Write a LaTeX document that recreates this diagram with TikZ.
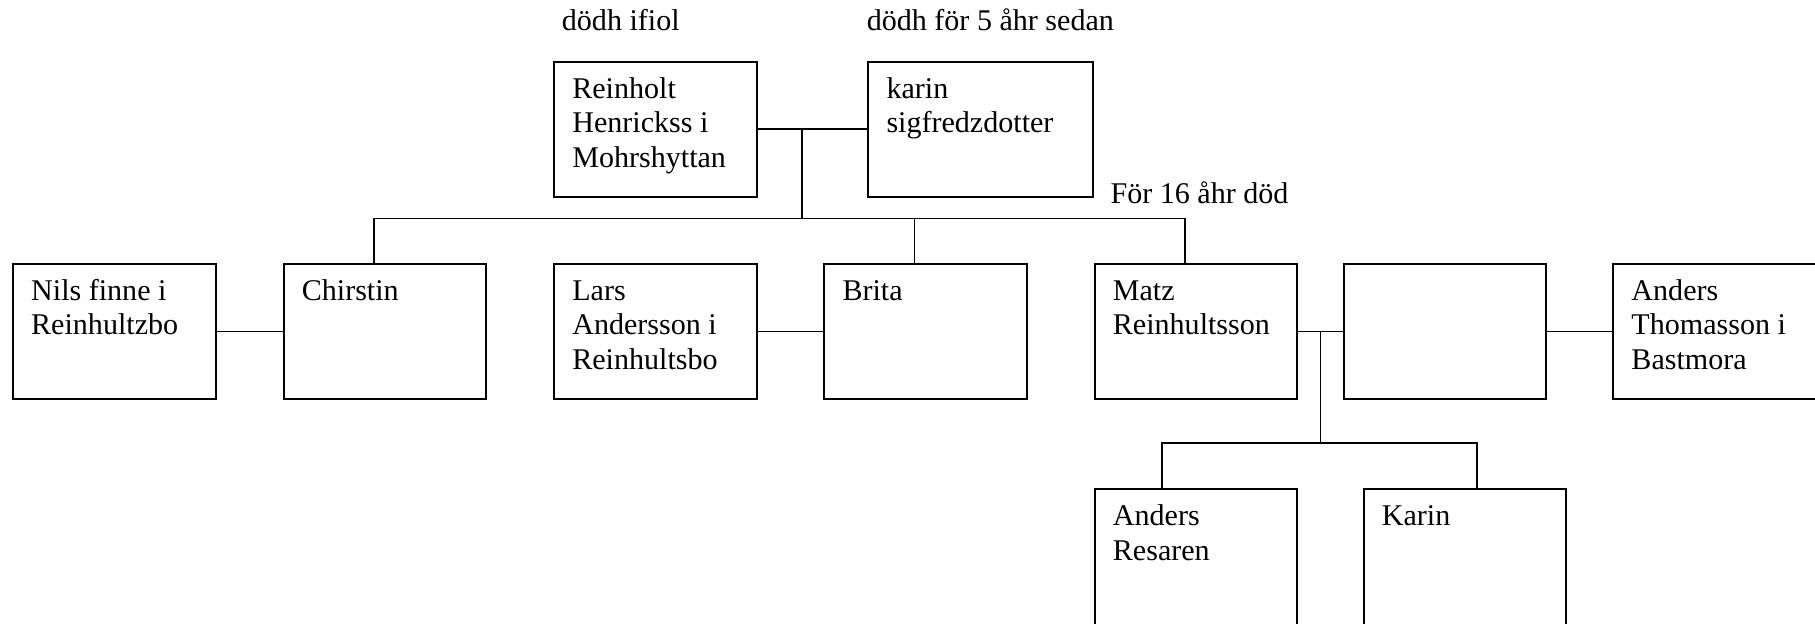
\documentclass[tikz,border=0pt]{standalone}
\usepackage{fontspec}
\setmainfont{Liberation Serif}
\usetikzlibrary{calc}

\tikzset{
    member/.style={draw, line width=0.8pt, anchor=north west, align=flush left,
        text width=#1, inner xsep=7.2pt, inner ysep=4.94pt,
        text height=9.66pt, text depth=34.54pt,
        font=\fontsize{12}{13.8}\selectfont},
    member/.default=66.45pt,
    note/.style={anchor=base west, inner sep=0pt, font=\fontsize{12}{13.8}\selectfont},
    link/.style={line width=0.7pt}
}

\begin{document}
\begin{tikzpicture}[x=0.462pt, y=-0.462pt]
    \useasboundingbox (0,0) rectangle (1568,539);

    % parents
    \node[member] (rein) at (478,52.3) {Reinholt\\Henrickss i\\Mohrshyttan};
    \node[member=75.2pt] (karin) at (749.4,52.3) {karin\\sigfredzdotter};
    \node[note] (noteRein) at (485,26.4) {dödh ifiol};
    \node[note] (noteKarin) at (748.4,26.4) {dödh för 5 åhr sedan};

    % children and their spouses
    \node[member] (nils) at (10.5,227) {Nils finne i\\Reinhultzbo};
    \node[member] (chirstin) at (244.3,227) {Chirstin};
    \node[member] (lars) at (478,227) {Lars\\Andersson i\\Reinhultsbo};
    \node[member] (brita) at (711.4,227) {Brita};
    \node[member] (matz) at (945,227) {Matz\\Reinhultsson};
    \node[member] (matzWife) at (1160,227) {};
    \node[member] (andersT) at (1393,227) {Anders\\Thomasson i\\Bastmora};
    \node[note] (noteMatz) at (959,176) {För 16 åhr död};

    % grandchildren
    \node[member] (resaren) at (945,421.6) {Anders\\Resaren};
    \node[member] (karinD) at (1177.4,421.6) {Karin};

    % marriages
    \draw[link] (rein.east) -- (karin.west);
    \draw[link] (nils.east) -- (chirstin.west);
    \draw[link] (lars.east) -- (brita.west);
    \draw[link] (matz.east) -- (matzWife.west);
    \draw[link] (matzWife.east) -- (andersT.west);

    % descent from Reinholt and karin
    \coordinate (parents) at ($(rein.east)!0.4!(karin.west)$);
    \coordinate (chirTop) at ($(chirstin.north west)!0.445!(chirstin.north east)$);
    \coordinate (britaTop) at ($(brita.north west)!0.445!(brita.north east)$);
    \coordinate (matzTop) at ($(matz.north west)!0.447!(matz.north east)$);
    \coordinate (matzBus) at ($(matzTop)+(0,-38.2)$);
    \draw[link] (chirTop) |- (matzBus) -- (matzTop);
    \draw[link] (britaTop) -- (britaTop |- matzBus);
    \draw[link] (parents) -- (parents |- matzBus);

    % descent from Matz
    \coordinate (kids) at ($(matz.east)!0.5!(matzWife.west)$);
    \coordinate (resTop) at ($(resaren.north west)!0.334!(resaren.north east)$);
    \coordinate (karTop) at ($(karinD.north west)!0.556!(karinD.north east)$);
    \coordinate (karBus) at ($(karTop)+(0,-38.8)$);
    \draw[link] (resTop) |- (karBus) -- (karTop);
    \draw[link] (kids) -- (kids |- karBus);
\end{tikzpicture}
\end{document}
